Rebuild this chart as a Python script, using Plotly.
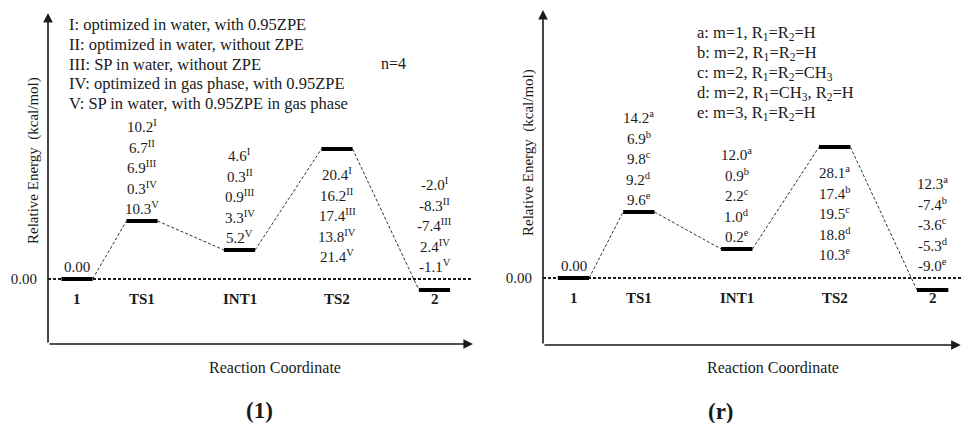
import plotly.graph_objects as go

W, H = 962, 423
FONT = "Liberation Serif, Times New Roman, serif"
INK = "#1a1a1a"

# ---------------- data ----------------
stages = ["1", "TS1", "INT1", "TS2", "2"]
stage_x = [0, 1, 2.5, 4, 5.5]            # schematic reaction coordinate
# schematic drawn level heights (diagram units)
levels_1 = [0, 58, 29, 130, -11]
levels_r = [0, 66, 29, 131, -12]

# panel (1): n=4, five computational levels
methods_1 = ["I", "II", "III", "IV", "V"]
legend_1 = [
    "I: optimized in water, with 0.95ZPE",
    "II: optimized in water, without ZPE",
    "III: SP in water, without ZPE",
    "IV: optimized in gas phase, with 0.95ZPE",
    "V: SP in water, with 0.95ZPE in gas phase",
]
E1_TS1 = [10.2, 6.7, 6.9, 0.3, 10.3]
E1_INT1 = [4.6, 0.3, 0.9, 3.3, 5.2]
E1_TS2 = [20.4, 16.2, 17.4, 13.8, 21.4]
E1_P2 = [-2.0, -8.3, -7.4, 2.4, -1.1]

# panel (r): substituent variants
methods_r = ["a", "b", "c", "d", "e"]
legend_r = [
    "a: m=1, R<sub>1</sub>=R<sub>2</sub>=H",
    "b: m=2, R<sub>1</sub>=R<sub>2</sub>=H",
    "c: m=2, R<sub>1</sub>=R<sub>2</sub>=CH<sub>3</sub>",
    "d: m=2, R<sub>1</sub>=CH<sub>3</sub>, R<sub>2</sub>=H",
    "e: m=3, R<sub>1</sub>=R<sub>2</sub>=H",
]
Er_TS1 = [14.2, 6.9, 9.8, 9.2, 9.6]
Er_INT1 = [12.0, 0.9, 2.2, 1.0, 0.2]
Er_TS2 = [28.1, 17.4, 19.5, 18.8, 10.3]
Er_P2 = [12.3, -7.4, -3.6, -5.3, -9.0]

panel_titles = ["(1)", "(r)"]

# ---------------- layout helpers ----------------
HW = 0.24           # half width of a level bar
SP = 20.5           # line spacing of value stacks (px)

panels = [
    dict(levels=levels_1, methods=methods_1, legend=legend_1,
         vals=[None, E1_TS1, E1_INT1, E1_TS2, E1_P2],
         xdom=(48, 473), ydom=(344, 13), zero=279, upx=65.0, first=29,
         leg_x=67, leg_y0=25, leg_dy=19.5, note="n=4", note_xy=(393, 63),
         ytitle_xy=(33, 161), xtitle_xy=(275, 367), title_xy=(259, 410)),
    dict(levels=levels_r, methods=methods_r, legend=legend_r,
         vals=[None, Er_TS1, Er_INT1, Er_TS2, Er_P2],
         xdom=(543, 962), ydom=(345, 10), zero=278, upx=65.3, first=30.5,
         leg_x=695, leg_y0=33, leg_dy=20, note=None, note_xy=None,
         ytitle_xy=(528, 153), xtitle_xy=(773, 367), title_xy=(721, 411)),
]

fig = go.Figure()
annotations = []


def px(xp, yp):
    return xp / W, 1 - yp / H


for k, p in enumerate(panels):
    xa = "x" if k == 0 else "x2"
    ya = "y" if k == 0 else "y2"
    xn = "xaxis" if k == 0 else "xaxis2"
    yn = "yaxis" if k == 0 else "yaxis2"
    x0p, x1p = p["xdom"]
    ybp, ytp = p["ydom"]
    # axis ranges: x in reaction-coordinate units, y in diagram units
    first_px = x0p + p["first"]
    xr = [-(first_px - x0p) / p["upx"], (x1p - first_px) / p["upx"]]
    yr = [-(ybp - p["zero"]), p["zero"] - ytp]
    fig.layout[xn] = dict(domain=[x0p / W, x1p / W], range=xr, visible=False,
                          anchor=ya, fixedrange=True, automargin=False)
    fig.layout[yn] = dict(domain=[1 - ybp / H, 1 - ytp / H], range=yr,
                          anchor=xa, showgrid=False, zeroline=False,
                          showline=False, tickvals=[0], ticktext=["0.00"],
                          ticks="", ticklabelstandoff=10, automargin=False,
                          fixedrange=True,
                          tickfont=dict(family=FONT, size=15, color=INK))

    lv = p["levels"]
    # zero reference line (from the energy axis to the end)
    fig.add_trace(go.Scatter(x=[xr[0], xr[1]], y=[0, 0], xaxis=xa, yaxis=ya,
                             mode="lines", line=dict(color=INK, width=1.8, dash="3px,2px"),
                             hoverinfo="skip", showlegend=False, cliponaxis=False))
    # connectors
    cx, cy = [], []
    for i in range(len(stages) - 1):
        cx += [stage_x[i] + HW, stage_x[i + 1] - HW, None]
        cy += [lv[i], lv[i + 1], None]
    fig.add_trace(go.Scatter(x=cx, y=cy, xaxis=xa, yaxis=ya, mode="lines",
                             line=dict(color=INK, width=0.9, dash="3px,2px"),
                             hoverinfo="skip", showlegend=False))
    # level bars
    bx, by = [], []
    for i in range(len(stages)):
        bx += [stage_x[i] - HW, stage_x[i] + HW, None]
        by += [lv[i], lv[i], None]
    fig.add_trace(go.Scatter(x=bx, y=by, xaxis=xa, yaxis=ya, mode="lines",
                             line=dict(color="black", width=4),
                             hoverinfo="skip", showlegend=False))

    # stage names under the zero line
    for i, s in enumerate(stages):
        annotations.append(dict(x=stage_x[i], y=0, xref=xa, yref=ya, text=f"<b>{s}</b>",
                                showarrow=False, yshift=-20, yanchor="middle",
                                xanchor="center",
                                font=dict(family=FONT, size=15, color=INK)))
    # 0.00 above the reactant
    annotations.append(dict(x=stage_x[0], y=lv[0], xref=xa, yref=ya, text="0.00",
                            showarrow=False, yshift=12, yanchor="middle", xanchor="center",
                            font=dict(family=FONT, size=15, color=INK)))
    # value stacks
    n = len(p["methods"])
    for i in range(1, len(stages)):
        vals = p["vals"][i]
        below = lv[i] == max(lv)
        base = max(lv[i], 0)
        for j, (v, m) in enumerate(zip(vals, p["methods"])):
            if below:
                ys = -(25 + j * SP)
            else:
                ys = 13 + (n - 1 - j) * SP
            annotations.append(dict(x=stage_x[i], y=base, xref=xa, yref=ya,
                                    text=f"{v:.1f}<sup>{m}</sup>", showarrow=False,
                                    yshift=ys, yanchor="middle", xanchor="center",
                                    font=dict(family=FONT, size=15, color=INK)))
    # legend text block
    for j, t in enumerate(p["legend"]):
        lx, lyy = px(p["leg_x"], p["leg_y0"] + j * p["leg_dy"])
        annotations.append(dict(x=lx, y=lyy, xref="paper", yref="paper", text=t,
                                showarrow=False, xanchor="left", yanchor="middle",
                                font=dict(family=FONT, size=16.5, color=INK)))
    if p["note"]:
        nx, ny = px(*p["note_xy"])
        annotations.append(dict(x=nx, y=ny, xref="paper", yref="paper", text=p["note"],
                                showarrow=False, xanchor="center", yanchor="middle",
                                font=dict(family=FONT, size=16, color=INK)))
    # axis titles
    tx, ty = px(*p["ytitle_xy"])
    annotations.append(dict(x=tx, y=ty, xref="paper", yref="paper",
                            text="Relative Energy  (kcal/mol)", textangle=-90,
                            xanchor="center", yanchor="middle",
                            showarrow=False, font=dict(family=FONT, size=15, color=INK)))
    tx, ty = px(*p["xtitle_xy"])
    annotations.append(dict(x=tx, y=ty, xref="paper", yref="paper",
                            text="Reaction Coordinate", showarrow=False,
                            xanchor="center", yanchor="middle",
                            font=dict(family=FONT, size=16, color=INK)))
    tx, ty = px(*p["title_xy"])
    annotations.append(dict(x=tx, y=ty, xref="paper", yref="paper",
                            text=f"<b>{panel_titles[k]}</b>", showarrow=False,
                            xanchor="center", yanchor="middle",
                            font=dict(family=FONT, size=23, color=INK)))
    # axes drawn as arrows
    xd = f"{xa} domain"
    yd = f"{ya} domain"
    tipx = 1 if k == 0 else 0.997
    annotations.append(dict(x=tipx, y=0, xref=xd, yref=yd, ax=-(x1p - x0p) * tipx, ay=0,
                            text="", showarrow=True, arrowhead=2, arrowsize=1.2,
                            arrowwidth=1.6, arrowcolor=INK))
    annotations.append(dict(x=0, y=1, xref=xd, yref=yd, ax=0, ay=(ybp - ytp),
                            text="", showarrow=True, arrowhead=2, arrowsize=1.2,
                            arrowwidth=1.6, arrowcolor=INK))

fig.update_layout(width=W, height=H, margin=dict(l=0, r=0, t=0, b=0, autoexpand=False),
                  paper_bgcolor="white", plot_bgcolor="white",
                  annotations=annotations, showlegend=False)

fig.write_html("out.html", config={"displayModeBar": False},
               post_script="document.body.style.margin='0';document.body.style.overflow='hidden';")
